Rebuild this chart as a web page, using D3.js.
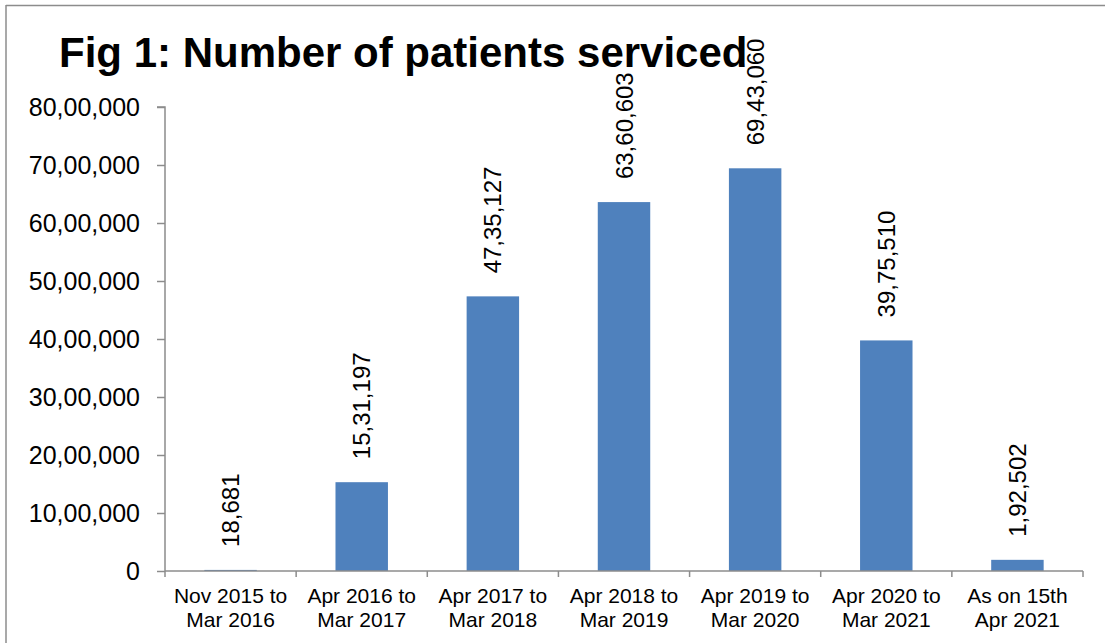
<!DOCTYPE html>
<html>
<head>
<meta charset="utf-8">
<script src="https://cdn.jsdelivr.net/npm/d3@7"></script>
<style>
  html, body { margin: 0; padding: 0; background: #fff; }
  svg { display: block; font-family: "Liberation Sans", Arial, sans-serif; }
</style>
</head>
<body>
<svg id="chart" width="1105" height="643"></svg>
<script>
const categories = [
  ["Nov 2015 to", "Mar 2016"],
  ["Apr 2016 to", "Mar 2017"],
  ["Apr 2017 to", "Mar 2018"],
  ["Apr 2018 to", "Mar 2019"],
  ["Apr 2019 to", "Mar 2020"],
  ["Apr 2020 to", "Mar 2021"],
  ["As on 15th", "Apr 2021"]
];
const values = [18681, 1531197, 4735127, 6360603, 6943060, 3975510, 192502];
const yTicks = [0, 1000000, 2000000, 3000000, 4000000, 5000000, 6000000, 7000000, 8000000];
const title = "Fig 1: Number of patients serviced";

// Indian number grouping
function indian(n) {
  const s = String(Math.round(n));
  if (s.length <= 3) return s;
  const last3 = s.slice(-3);
  let rest = s.slice(0, -3);
  const parts = [];
  while (rest.length > 2) { parts.unshift(rest.slice(-2)); rest = rest.slice(0, -2); }
  if (rest.length) parts.unshift(rest);
  return parts.join(",") + "," + last3;
}

(function () {
const svg = d3.select("#chart");
const pLeft = 165, pRight = 1083, pTop = 107, pBottom = 571;
const gray = "#8c8c8c";

// frame (top and left edges)
svg.append("line").attr("x1", 6).attr("x2", 1105).attr("y1", 5.5).attr("y2", 5.5)
  .attr("stroke", gray).attr("stroke-width", 1.5);
svg.append("line").attr("x1", 6).attr("x2", 6).attr("y1", 5).attr("y2", 643)
  .attr("stroke", gray).attr("stroke-width", 1.5);

const idx = d3.range(categories.length);
const x = d3.scaleBand().domain(idx).range([pLeft, pRight]).paddingInner(0.6).paddingOuter(0.3);
const y = d3.scaleLinear().domain([0, 8000000]).range([pBottom, pTop]);

// bars
svg.append("g").selectAll("rect").data(values).join("rect")
  .attr("x", (d, i) => x(i))
  .attr("width", x.bandwidth())
  .attr("y", d => y(d))
  .attr("height", d => y(0) - y(d))
  .attr("fill", "#4f81bd");

// y axis
const yAxis = d3.axisLeft(y).tickValues(yTicks).tickFormat(indian).tickSize(8).tickPadding(17);
const gy = svg.append("g").attr("transform", `translate(${pLeft},0)`).call(yAxis);
gy.select(".domain").attr("stroke", gray).attr("stroke-width", 1.5).attr("d", `M-8,${pTop}H0V${pBottom}`);
gy.selectAll(".tick line").attr("stroke", gray).attr("stroke-width", 1.5);
gy.selectAll(".tick text").attr("fill", "#000").style("font-size", "25px")
  .style("font-family", "'Liberation Sans', Arial, sans-serif").attr("dy", "0.35em");

// x axis
const xEdges = d3.range(categories.length + 1).map(i => pLeft + i * (pRight - pLeft) / categories.length);
const gx = svg.append("g");
gx.append("line").attr("x1", pLeft).attr("x2", pRight).attr("y1", pBottom).attr("y2", pBottom)
  .attr("stroke", gray).attr("stroke-width", 1.5);
gx.selectAll("line.t").data(xEdges).join("line").attr("class", "t")
  .attr("x1", d => d).attr("x2", d => d).attr("y1", pBottom).attr("y2", pBottom + 6)
  .attr("stroke", gray).attr("stroke-width", 1.5);
const xl = gx.selectAll("text").data(categories).join("text")
  .attr("text-anchor", "middle")
  .attr("fill", "#000")
  .style("font-size", "21px");
xl.each(function(d, i) {
  const t = d3.select(this);
  const cx = x(i) + x.bandwidth() / 2;
  t.append("tspan").attr("x", cx).attr("y", 603).text(d[0]);
  t.append("tspan").attr("x", cx).attr("y", 627).text(d[1]);
});

// data labels (rotated)
svg.append("g").selectAll("text").data(values).join("text")
  .attr("transform", (d, i) => `translate(${x(i) + x.bandwidth() / 2 + 8.5},${y(d) - 23}) rotate(-90)`)
  .attr("text-anchor", "start")
  .attr("fill", "#000")
  .style("font-size", "24px")
  .text(d => indian(d));

// title
svg.append("text").attr("x", 59).attr("y", 67)
  .attr("fill", "#000")
  .style("font-size", "42px").style("font-weight", "bold")
  .text(title);
})();
</script>
</body>
</html>
